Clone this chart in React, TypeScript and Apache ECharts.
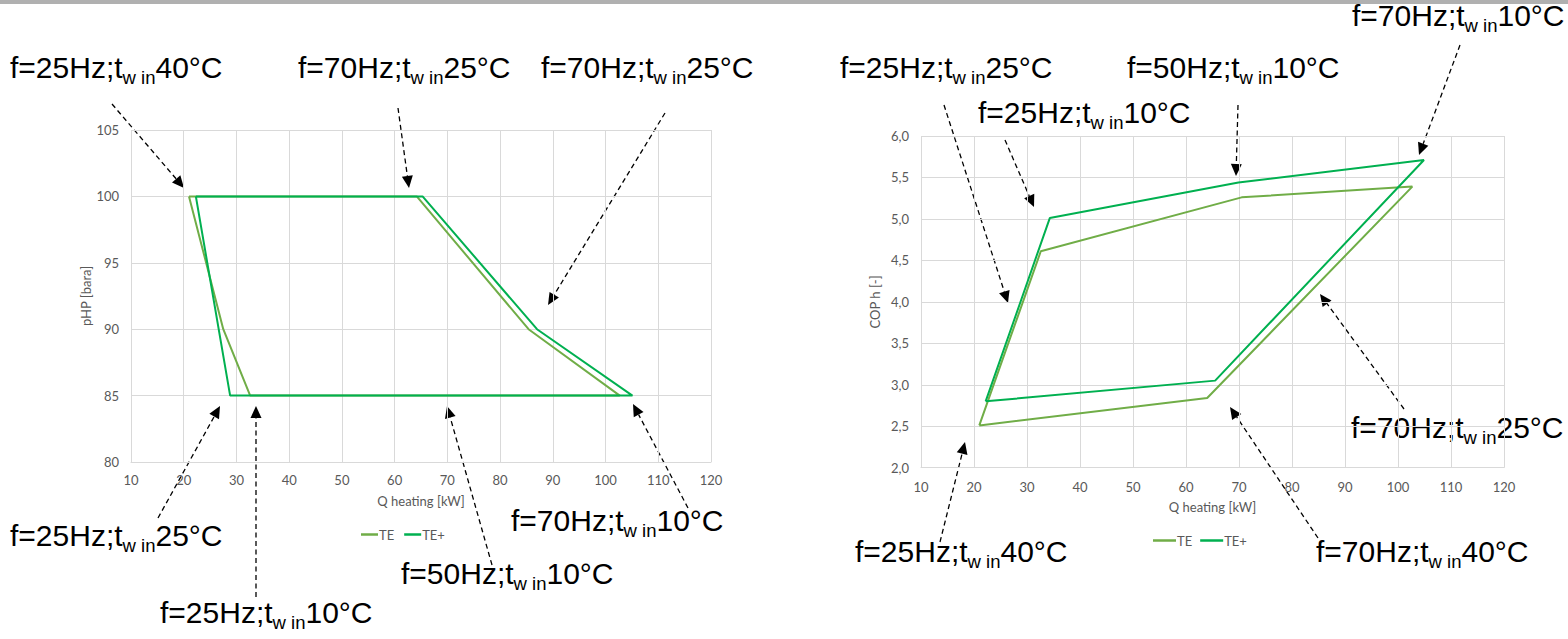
import React, { useEffect, useRef } from "react";
import * as echarts from "echarts";

// ---------- data ----------
const seriesNames = ["TE", "TE+"];
// Left chart: pHP [bara] vs Q heating [kW]
const leftTE_Q = [21.0, 64.2, 85.4, 102.7, 32.6, 27.5, 21.0];
const leftTE_p = [100, 100, 90, 85, 85, 90, 100];
const leftTEp_Q = [22.3, 65.3, 87.0, 105.1, 28.8, 22.3];
const leftTEp_p = [100, 100, 90, 85, 85, 100];
// Right chart: COP h [-] vs Q heating [kW]
const rightTE_Q = [21.0, 32.6, 70.5, 102.7, 64.0, 21.0];
const rightTE_cop = [2.51, 4.61, 5.26, 5.39, 2.84, 2.51];
const rightTEp_Q = [22.2, 34.3, 69.9, 104.9, 65.5, 22.2];
const rightTEp_cop = [2.8, 5.01, 5.44, 5.71, 3.05, 2.8];

// annotation texts: [frequency, water inlet temperature]
const annoFreq = ["25Hz", "70Hz", "70Hz", "25Hz", "25Hz", "50Hz", "70Hz", "25Hz", "50Hz", "25Hz", "70Hz", "70Hz", "25Hz", "70Hz"];
const annoTemp = ["40°C", "25°C", "25°C", "25°C", "10°C", "10°C", "10°C", "25°C", "10°C", "10°C", "10°C", "25°C", "40°C", "40°C"];

// ---------- layout (positions of callouts: left x, baseline y) ----------
const annoPos: [number, number][] = [
  [10, 82], [298, 82], [541, 82], [10, 550], [160, 627], [401, 588], [511, 535],
  [840, 82], [1127, 82], [978, 127], [1352, 30], [1351, 442], [855, 566], [1316, 566],
];
const arrowPos: [number, number, number, number][] = [
  [112, 104, 184, 188],
  [398, 108, 409, 188],
  [665, 113, 548, 305],
  [158, 518, 220, 406],
  [256, 597, 256, 406],
  [492, 565, 447, 406],
  [688, 508, 633, 404],
  [944, 105, 1008, 303],
  [1005, 140, 1034, 207],
  [1238, 105, 1236, 176],
  [1460, 45, 1419, 155],
  [1404, 409, 1320, 294],
  [940, 542, 965, 442],
  [1318, 538, 1230, 407],
];

const GRAY = "#595959";
const GRID = "#d9d9d9";
const FONT = "Lato";
const FS = 13;
const C_TE = "#70AD47";
const C_TEP = "#00B050";

function zip(a: number[], b: number[]) {
  return a.map((v, i) => [v, b[i]]);
}

function buildGraphics() {
  const els: any[] = [];
  els.push({ type: "rect", shape: { x: 0, y: 0, width: 1568, height: 4 }, style: { fill: "#b0b0b0" }, silent: true });
  arrowPos.forEach(([x1, y1, x2, y2]) => {
    const dx = x2 - x1;
    const dy = y2 - y1;
    const len = Math.sqrt(dx * dx + dy * dy);
    const ux = dx / len;
    const uy = dy / len;
    const hl = 12;
    const hw = 5.5;
    const bx = x2 - ux * hl;
    const by = y2 - uy * hl;
    els.push({
      type: "line",
      shape: { x1, y1, x2: bx, y2: by },
      style: { stroke: "#000", lineWidth: 1.3, lineDash: [5, 3.5] },
      silent: true,
    });
    els.push({
      type: "polygon",
      shape: { points: [[x2, y2], [bx - uy * hw, by + ux * hw], [bx + uy * hw, by - ux * hw]] },
      style: { fill: "#000" },
      silent: true,
    });
  });
  annoPos.forEach(([x, baseline], i) => {
    els.push({
      type: "text",
      x,
      y: baseline - 29.5,
      silent: true,
      style: {
        text: `{a|f=${annoFreq[i]};t}{s|w in}{a|${annoTemp[i]}}`,
        textVerticalAlign: "top",
        verticalAlign: "top",
        rich: {
          a: { fontSize: 30, lineHeight: 30, fontFamily: "Liberation Sans", fill: "#000" },
          s: { fontSize: 18.5, lineHeight: 18, padding: [20, 0, 0, 0], fontFamily: "Liberation Sans", fill: "#000" },
        },
      },
    });
  });
  return els;
}

const xAxisCommon = {
  type: "value",
  min: 10,
  max: 120,
  interval: 10,
  name: "Q heating [kW]",
  nameLocation: "middle",
  nameTextStyle: { color: GRAY, fontSize: FS, fontFamily: FONT },
  axisLine: { show: true, lineStyle: { color: GRID, width: 1 } },
  axisTick: { show: false },
  axisLabel: { color: GRAY, fontSize: FS, fontFamily: FONT },
  splitLine: { show: true, lineStyle: { color: GRID, width: 1 } },
};

export default function App() {
  const ref = useRef<HTMLDivElement>(null);
  useEffect(() => {
    if (!ref.current) return;
    const chart = echarts.init(ref.current, null, { renderer: "svg" });
    chart.setOption({
      animation: false,
      backgroundColor: "#fff",
      grid: [
        { left: 131, top: 130, width: 580, height: 332 },
        { left: 921, top: 136, width: 583, height: 331.7 },
      ],
      xAxis: [
        { ...xAxisCommon, gridIndex: 0, nameGap: 32, axisLabel: { ...xAxisCommon.axisLabel, margin: 11 } },
        { ...xAxisCommon, gridIndex: 1, nameGap: 33, axisLabel: { ...xAxisCommon.axisLabel, margin: 13 } },
      ],
      yAxis: [
        {
          type: "value",
          gridIndex: 0,
          min: 80,
          max: 105,
          interval: 5,
          name: "pHP [bara]",
          nameLocation: "middle",
          nameGap: 38,
          nameRotate: 90,
          nameTextStyle: { color: GRAY, fontSize: FS, fontFamily: FONT },
          axisLine: { show: false },
          axisTick: { show: false },
          axisLabel: { color: GRAY, fontSize: FS, fontFamily: FONT, margin: 12 },
          splitLine: { show: true, lineStyle: { color: GRID, width: 1 } },
        },
        {
          type: "value",
          gridIndex: 1,
          min: 2,
          max: 6,
          interval: 0.5,
          name: "COP h [-]",
          nameLocation: "middle",
          nameGap: 40,
          nameRotate: 90,
          nameTextStyle: { color: GRAY, fontSize: FS, fontFamily: FONT },
          axisLine: { show: false },
          axisTick: { show: false },
          axisLabel: {
            color: GRAY,
            fontSize: FS,
            fontFamily: FONT,
            margin: 12,
            formatter: (v: number) => v.toFixed(1).replace(".", ","),
          },
          splitLine: { show: true, lineStyle: { color: GRID, width: 1 } },
        },
      ],
      legend: [
        {
          data: seriesNames,
          left: 356,
          top: 523,
          icon: "rect",
          itemWidth: 17,
          itemHeight: 2.5,
          itemGap: 10,
          textStyle: { color: GRAY, fontSize: FS, fontFamily: FONT, padding: [0, 0, 0, -4] },
        },
        {
          data: seriesNames,
          left: 1148,
          top: 529,
          icon: "rect",
          itemWidth: 23,
          itemHeight: 2.5,
          itemGap: 8,
          textStyle: { color: GRAY, fontSize: FS, fontFamily: FONT, padding: [0, 0, 0, -4] },
        },
      ],
      series: [
        { name: "TE", type: "line", xAxisIndex: 0, yAxisIndex: 0, data: zip(leftTE_Q, leftTE_p), showSymbol: false, symbol: "none", lineStyle: { color: C_TE, width: 2 }, itemStyle: { color: C_TE } },
        { name: "TE+", type: "line", xAxisIndex: 0, yAxisIndex: 0, data: zip(leftTEp_Q, leftTEp_p), showSymbol: false, symbol: "none", lineStyle: { color: C_TEP, width: 2 }, itemStyle: { color: C_TEP } },
        { name: "TE", type: "line", xAxisIndex: 1, yAxisIndex: 1, data: zip(rightTE_Q, rightTE_cop), showSymbol: false, symbol: "none", lineStyle: { color: C_TE, width: 2 }, itemStyle: { color: C_TE } },
        { name: "TE+", type: "line", xAxisIndex: 1, yAxisIndex: 1, data: zip(rightTEp_Q, rightTEp_cop), showSymbol: false, symbol: "none", lineStyle: { color: C_TEP, width: 2 }, itemStyle: { color: C_TEP } },
      ],
      graphic: buildGraphics(),
    });
    return () => chart.dispose();
  }, []);
  return (
    <div
      ref={ref}
      style={{ position: "absolute", left: 0, top: 0, width: 1568, height: 639, background: "#fff" }}
    />
  );
}
